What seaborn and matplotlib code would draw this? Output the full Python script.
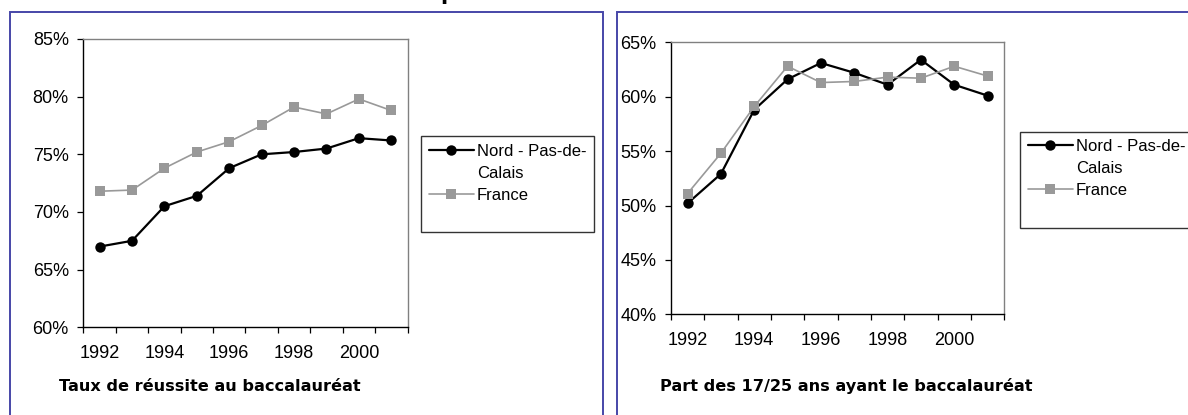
import pandas as pd
import seaborn as sns
import matplotlib.pyplot as plt
from matplotlib.lines import Line2D
from matplotlib.patches import Rectangle
from matplotlib.ticker import PercentFormatter, FixedLocator, NullFormatter

years = [1992, 1993, 1994, 1995, 1996, 1997, 1998, 1999, 2000, 2001]

# Taux de réussite au baccalauréat (%)
nord_reussite = [67.0, 67.5, 70.5, 71.4, 73.8, 75.0, 75.2, 75.5, 76.4, 76.2]
france_reussite = [71.8, 71.9, 73.8, 75.2, 76.1, 77.5, 79.1, 78.5, 79.8, 78.8]

# Part des 17/25 ans ayant le baccalauréat (%)
nord_part = [50.2, 52.9, 58.8, 61.6, 63.1, 62.2, 61.1, 63.4, 61.1, 60.1]
france_part = [51.1, 54.8, 59.1, 62.8, 61.3, 61.4, 61.8, 61.7, 62.8, 61.9]

zones = ["Nord - Pas-de-Calais", "France"]
tick_years = [1992, 1994, 1996, 1998, 2000]

sns.set_theme(style="white")
plt.rcParams['font.family'] = ['Liberation Sans', 'DejaVu Sans']
plt.rcParams['text.color'] = 'black'
plt.rcParams['xtick.color'] = 'black'
plt.rcParams['ytick.color'] = 'black'
plt.rcParams['xtick.labelcolor'] = 'black'
plt.rcParams['ytick.labelcolor'] = 'black'

W, H = 1188, 415
fig = plt.figure(figsize=(W / 100, H / 100), dpi=100)

def fx(px):
    return px / W

def fy(py):
    return 1 - py / H

# blue frames around each panel
blue = '#4646a8'
fig.patches.append(Rectangle((fx(10), fy(430)), fx(603 - 10), fy(12) - fy(430),
                             transform=fig.transFigure, fill=False, ec=blue, lw=1.4))
fig.patches.append(Rectangle((fx(617), fy(430)), fx(1200 - 617), fy(12) - fy(430),
                             transform=fig.transFigure, fill=False, ec=blue, lw=1.4))

# title of the page, cut at the very top (only a descender shows)
fig.text(fx(440), 1.0, "p", fontsize=15, fontweight='bold', color='black',
         va='baseline', ha='left', family='DejaVu Sans')

palette = {zones[0]: 'black', zones[1]: '#999999'}
markers = {zones[0]: 'o', zones[1]: 's'}
sizes = {zones[0]: 1.6, zones[1]: 1.2}


def draw(ax, nord, france, ylim, yticks):
    df = pd.DataFrame({
        'année': years + years,
        'valeur': nord + france,
        'zone': [zones[0]] * len(years) + [zones[1]] * len(years),
    })
    sns.lineplot(data=df, x='année', y='valeur', hue='zone', style='zone',
                 size='zone', palette=palette, markers=markers, sizes=sizes,
                 dashes=False, markersize=7.5, markeredgewidth=0, legend=False,
                 ax=ax)
    ax.set_xlim(1991.5, 2001.5)
    ax.set_ylim(*ylim)
    ax.set_yticks(yticks)
    ax.yaxis.set_major_formatter(PercentFormatter(xmax=100, decimals=0))
    ax.xaxis.set_major_locator(FixedLocator([y - 0.5 for y in years] + [2001.5]))
    ax.xaxis.set_major_formatter(NullFormatter())
    ax.xaxis.set_minor_locator(FixedLocator(tick_years))
    ax.set_xticklabels([str(y) for y in tick_years], minor=True)
    ax.tick_params(axis='x', which='major', direction='out', length=4.5, width=0.9,
                   color='black', bottom=True)
    ax.tick_params(axis='x', which='minor', length=0, pad=12.5, labelsize=13,
                   bottom=True, labelcolor='black')
    ax.tick_params(axis='y', direction='out', length=4.5, width=0.9, color='black',
                   left=True, pad=6, labelsize=13, labelcolor='black')
    ax.set_xlabel('')
    ax.set_ylabel('')
    ax.grid(False)
    for side in ['left', 'bottom']:
        ax.spines[side].set_color('black')
        ax.spines[side].set_linewidth(1.0)
    for side in ['top', 'right']:
        ax.spines[side].set_color('#808080')
        ax.spines[side].set_linewidth(1.0)


def legend(ax, x, y):
    handles = [
        Line2D([], [], color='black', lw=1.6, marker='o', markersize=7.5, markeredgewidth=0),
        Line2D([], [], color='none'),
        Line2D([], [], color='#999999', lw=1.2, marker='s', markersize=7.5, markeredgewidth=0),
        Line2D([], [], color='none'),
    ]
    labels = ["Nord - Pas-de-", "Calais", "France", " "]
    leg = ax.legend(handles, labels, loc='upper left', bbox_to_anchor=(x, y),
                    bbox_transform=fig.transFigure, borderaxespad=0, fontsize=12,
                    frameon=True, fancybox=False, edgecolor='black',
                    handlelength=2.75, handletextpad=0.15, labelspacing=0.42,
                    borderpad=0.45, labelcolor='black')
    leg.get_frame().set_linewidth(1.0)
    leg.set_clip_on(False)


ax1 = fig.add_axes([fx(83.4), fy(327.3), fx(407.5 - 83.4), fy(39) - fy(327.3)])
draw(ax1, nord_reussite, france_reussite, (60, 85), [60, 65, 70, 75, 80, 85])
legend(ax1, fx(421), fy(136))
fig.text(fx(59), fy(386), "Taux de réussite au baccalauréat", fontsize=11.6,
         fontweight='bold', family='DejaVu Sans', va='center', ha='left', color='black')

ax2 = fig.add_axes([fx(670.9), fy(314.3), fx(1004.2 - 670.9), fy(42.3) - fy(314.3)])
draw(ax2, nord_part, france_part, (40, 65), [40, 45, 50, 55, 60, 65])
legend(ax2, fx(1020), fy(131.7))
fig.text(fx(660), fy(386), "Part des 17/25 ans ayant le baccalauréat", fontsize=11.6,
         fontweight='bold', family='DejaVu Sans', va='center', ha='left', color='black')

fig.savefig('out.png', dpi=100)
